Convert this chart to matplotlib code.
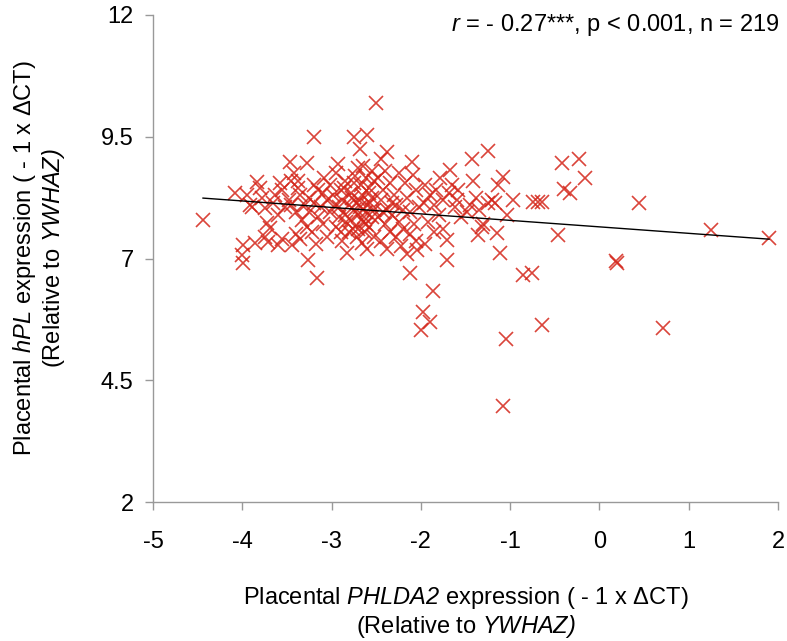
import numpy as np
import matplotlib
matplotlib.use('Agg')
from matplotlib import pyplot as plt

plt.rcParams['font.family'] = ['Liberation Sans', 'DejaVu Sans']
plt.rcParams['axes.unicode_minus'] = False
plt.rcParams['mathtext.fontset'] = 'custom'
plt.rcParams['mathtext.rm'] = 'Liberation Sans'
# sf slot used for italic words (keeps digits and brackets italic too)
plt.rcParams['mathtext.sf'] = 'Liberation Sans:italic'

# PHLDA2 expression (x) vs hPL expression (y)
phlda2 = [
    -4.44, -4.08, -3.99, -3.86, -4.00, -3.99, -3.91, -3.84, -3.80, -3.89,
    -3.75, -3.72, -3.69, -3.71, -3.74, -3.60, -3.55, -3.63, -3.58, -3.55,
    -3.66, -3.52, -3.60, -3.78, -3.95,
    -3.47, -3.28, -3.20, -3.44, -3.40, -3.45, -3.42, -3.38, -3.35, -3.48,
    -3.30, -3.25, -3.40, -3.33, -3.28, -3.22, -3.35, -3.26, -3.16, -3.18,
    -3.15, -3.12, -3.10, -3.20, -3.08, -3.05, -3.02, -3.10, -3.05, -3.20,
    -3.45, -3.38, -3.25, -3.15, -3.02,
    -2.95, -2.90, -2.88, -2.92, -2.85, -2.95, -2.83, -2.88, -2.80, -2.78,
    -2.75, -2.72, -2.78, -2.75, -2.70, -2.75, -2.60, -2.68, -2.66, -2.70,
    -2.65, -2.62, -2.60, -2.66, -2.58, -2.62, -2.55, -2.52, -2.55, -2.52,
    -2.55, -2.58, -2.52, -2.60, -2.50, -2.85, -2.80, -2.92, -2.98, -2.68,
    -2.72, -2.57, -2.63, -2.77, -2.90, -2.65, -2.96, -2.84, -2.70, -2.58,
    -2.74, -2.64, -2.86, -2.69, -2.61, -2.93, -2.76, -2.67,
    -2.38, -2.45, -2.40, -2.48, -2.42, -2.45, -2.38, -2.48, -2.40, -2.35,
    -2.45, -2.30, -2.28, -2.32, -2.25, -2.28, -2.22, -2.20, -2.18, -2.10,
    -2.09, -2.15, -2.12, -2.08, -2.12, -2.04, -2.12, -2.05, -2.02, -2.15,
    -2.35, -2.25, -2.20, -2.05, -2.38, -2.32, -2.42,
    -1.86, -1.98, -1.90, -2.00, -1.79, -1.67, -1.71, -1.71, -1.95, -1.90,
    -1.85, -1.80, -1.92, -1.75, -1.68, -1.62, -1.60, -1.55, -1.85, -1.95,
    -1.75, -1.65, -1.58, -1.97, -1.83,
    -1.43, -1.25, -1.42, -1.08, -1.14, -1.17, -1.31, -1.36, -1.15, -1.11,
    -1.05, -1.08, -1.03, -1.45, -1.38, -1.30, -1.25, -1.20, -1.48, -1.35,
    -0.97, -0.86, -0.76, -0.74, -0.69, -0.64, -0.64, -0.46, -0.42, -0.23,
    -0.16, -0.40, -0.33,
    0.18, 0.20, 0.44, 0.71, 1.25, 1.90,
]
hpl = [
    7.79, 8.34, 7.28, 7.32, 7.07, 6.91, 8.10, 8.57, 8.45, 8.06,
    8.04, 7.73, 7.62, 7.34, 7.45, 7.28, 7.40, 8.30, 8.55, 8.40,
    8.15, 8.05, 7.90, 8.25, 8.30,
    8.98, 8.96, 9.49, 7.28, 7.50, 8.60, 8.75, 8.45, 8.30, 8.20,
    8.10, 8.25, 7.95, 7.80, 7.65, 7.55, 7.40, 6.97, 6.60, 7.30,
    7.85, 8.05, 8.35, 8.50, 8.65, 8.20, 7.95, 7.70, 7.45, 8.15,
    8.10, 8.60, 7.95, 8.40, 8.50,
    8.75, 8.40, 8.20, 8.05, 7.90, 7.65, 7.11, 7.35, 7.55, 7.80,
    8.00, 8.15, 8.35, 8.55, 8.85, 9.49, 9.54, 9.25, 7.32, 7.60,
    7.75, 7.95, 8.10, 8.30, 8.45, 8.65, 8.80, 8.60, 8.25, 8.00,
    7.85, 7.65, 7.45, 7.20, 10.19, 8.60, 8.10, 7.85, 8.30, 8.05,
    7.45, 8.15, 7.55, 8.25, 7.55, 8.90, 8.10, 7.75, 7.90, 8.35,
    8.70, 7.85, 8.45, 8.20, 7.70, 8.95, 7.60, 8.50,
    9.19, 9.05, 8.80, 8.65, 8.40, 8.20, 8.00, 7.85, 7.70, 7.55,
    7.35, 8.30, 8.10, 7.90, 7.75, 7.45, 7.25, 8.00, 8.55, 8.98,
    8.71, 8.25, 7.95, 7.70, 7.50, 7.18, 6.70, 8.40, 8.05, 7.10,
    8.55, 8.75, 7.60, 7.35, 7.20, 8.15, 7.95,
    6.33, 5.91, 5.70, 5.53, 8.65, 8.82, 7.38, 6.97, 8.50, 8.30,
    8.10, 7.90, 7.75, 8.20, 8.35, 8.05, 8.20, 7.85, 7.55, 7.30,
    7.60, 8.50, 8.40, 8.15, 8.40,
    9.04, 9.21, 8.59, 8.67, 8.51, 8.14, 7.65, 7.48, 7.52, 7.11,
    5.35, 3.97, 7.90, 8.10, 8.25, 7.70, 8.15, 8.20, 7.95, 8.00,
    8.20, 6.66, 6.70, 8.16, 8.16, 8.16, 5.63, 7.48, 8.96, 9.04,
    8.65, 8.43, 8.35,
    6.95, 6.90, 8.14, 5.57, 7.59, 7.42,
]

# trend line
slope = -0.133
intercept = 7.65

x_ticks = [-5, -4, -3, -2, -1, 0, 1, 2]
y_ticks = [2, 4.5, 7, 9.5, 12]
y_tick_labels = ['2', '4.5', '7', '9.5', '12']

fig = plt.figure(figsize=(7.87, 6.41), dpi=100)
ax = fig.add_axes([0.1944, 0.2168, 0.7942, 0.7598])

ax.plot(phlda2, hpl, 'x', color='#d42418', alpha=0.85, markersize=10, markeredgewidth=1.2)

x = np.array(phlda2)
xs = np.array([x.min(), x.max()])
ax.plot(xs, intercept + slope * xs, color='black', linewidth=1)

ax.set_xlim(-5, 2)
ax.set_ylim(2, 12)
ax.set_xticks(x_ticks)
ax.set_yticks(y_ticks)
ax.set_yticklabels(y_tick_labels)

for s in ['top', 'right']:
    ax.spines[s].set_visible(False)
for s in ['left', 'bottom']:
    ax.spines[s].set_color('#999999')
    ax.spines[s].set_linewidth(1)
ax.tick_params(axis='both', colors='#999999', labelcolor='black', labelsize=17, length=6, width=1)
ax.tick_params(axis='x', pad=15)
ax.tick_params(axis='y', pad=8)

ax.set_xlabel('Placental $\\mathsf{PHLDA2}$ expression ( - 1 x ΔCT)\n(Relative to $\\mathsf{YWHAZ)}$',
              fontsize=17, labelpad=23, linespacing=1.1)
ax.set_ylabel('Placental $\\mathsf{hPL}$ expression ( - 1 x ΔCT)\n(Relative to $\\mathsf{YWHAZ)}$',
              fontsize=17, labelpad=24, linespacing=1.1)

fig.text(780 / 787, 1 - 25 / 641, '$\\mathsf{r}$ = - 0.27***, p < 0.001, n = 219',
         ha='right', va='center', fontsize=17)

plt.savefig('out.png', dpi=100)
